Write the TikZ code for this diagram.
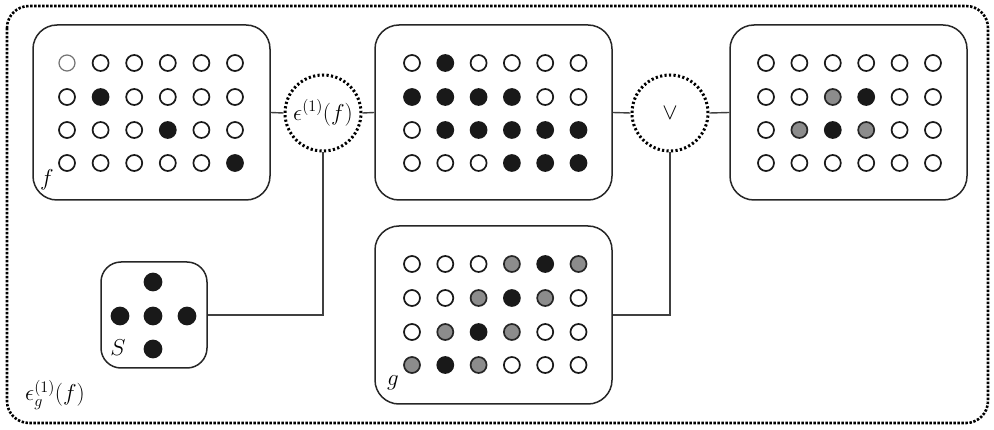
\documentclass[tikz,border=0pt]{standalone}
\usepackage{fix-cm}
\begin{document}
\begin{tikzpicture}[x=1pt,y=-1pt,
  panel/.style={draw=black!85, line width=1.5pt, rounded corners=24pt, fill=white, inner sep=0pt},
  opcirc/.style={circle, draw=black, line width=3pt, dash pattern=on 2.2pt off 2.3pt, inner sep=0pt, minimum size=76pt, fill=white},
  outerbox/.style={draw=black, line width=2.6pt, dash pattern=on 2.4pt off 1.6pt, rounded corners=22pt, inner sep=0pt},
  conn/.style={draw=black!75, line width=1.4pt},
  dotbase/.style={circle, inner sep=0pt, minimum size=16pt, line width=1.7pt},
  doto/.style={dotbase, draw=black!90, fill=white},
  dotl/.style={dotbase, draw=black!55, line width=1.2pt, fill=white},
  dotb/.style={dotbase, draw=black!90, fill=black!90},
  dotg/.style={dotbase, draw=black!85, fill=black!45},
  lab/.style={font=\fontsize{23}{27}\selectfont, inner sep=0pt}
]
\useasboundingbox (0,0) rectangle (994,430);
% outer
\draw[outerbox] (7,6) rectangle (988,423);
\coordinate (outer) at (497.5,214.5);
% panels
\node[panel, minimum width=237pt, minimum height=175pt] (fpanel) at (151.5,112.5) {};
\node[panel, minimum width=237pt, minimum height=175pt] (mpanel) at (493.5,112.5) {};
\node[panel, minimum width=237pt, minimum height=175pt] (rpanel) at (848.5,112.5) {};
\node[panel, minimum width=237pt, minimum height=178pt] (gpanel) at (493.5,315) {};
\node[panel, rounded corners=20pt, minimum width=106pt, minimum height=106pt] (spanel) at (154,315) {};
% operator circles
\node[opcirc, lab] (ecirc) at (323,113) {$\epsilon^{(1)}(f)$};
\node[opcirc, lab] (vcirc) at (670,113) {$\vee$};
% connectors
\draw[conn] (fpanel.east) -- (ecirc.west);
\draw[conn] (ecirc.east) -- (mpanel.west);
\draw[conn] (mpanel.east) -- (vcirc.west);
\draw[conn] (vcirc.east) -- (rpanel.west);
\draw[conn] (spanel.east) -| (ecirc.south);
\draw[conn] (gpanel.east) -| (vcirc.south);
% dot grids
\foreach \y/\row [count=\r] in {63/{l,o,o,o,o,o},97/{o,b,o,o,o,o},130/{o,o,o,b,o,o},163/{o,o,o,o,o,b}}
  \foreach \t [count=\i] in \row
    \node[dot\t] (f-\r-\i) at ({67+33.6*(\i-1)},\y) {};
\foreach \y/\row [count=\r] in {63/{o,b,o,o,o,o},97/{b,b,b,b,o,o},130/{o,b,b,b,b,b},163/{o,o,o,b,b,b}}
  \foreach \t [count=\i] in \row
    \node[dot\t] (m-\r-\i) at ({412+33.3*(\i-1)},\y) {};
\foreach \y/\row [count=\r] in {63/{o,o,o,o,o,o},97/{o,o,g,b,o,o},130/{o,g,b,g,o,o},163/{o,o,o,o,o,o}}
  \foreach \t [count=\i] in \row
    \node[dot\t] (r-\r-\i) at ({766+33.4*(\i-1)},\y) {};
\foreach \y/\row [count=\r] in {264/{o,o,o,g,b,g},298/{o,o,g,b,g,o},332/{o,g,b,g,o,o},365/{g,b,g,o,o,o}}
  \foreach \t [count=\i] in \row
    \node[dot\t] (g-\r-\i) at ({412+33.3*(\i-1)},\y) {};
% S structuring element
\node[dotb, minimum size=17pt] (s-c) at (153,316) {};
\node[dotb, minimum size=17pt] (s-t) at (153,282) {};
\node[dotb, minimum size=17pt] (s-b) at (153,349) {};
\node[dotb, minimum size=17pt] (s-l) at (120,316) {};
\node[dotb, minimum size=17pt] (s-r) at (187,316) {};
% labels
\node[lab] (flabel) at (47,180) {$f$};
\node[lab] (slabel) at (118,348) {$S$};
\node[lab] (glabel) at (393,383) {$g$};
\node[lab] (elabel) at (55,395) {$\epsilon^{(1)}_{g}(f)$};
\end{tikzpicture}
\end{document}
